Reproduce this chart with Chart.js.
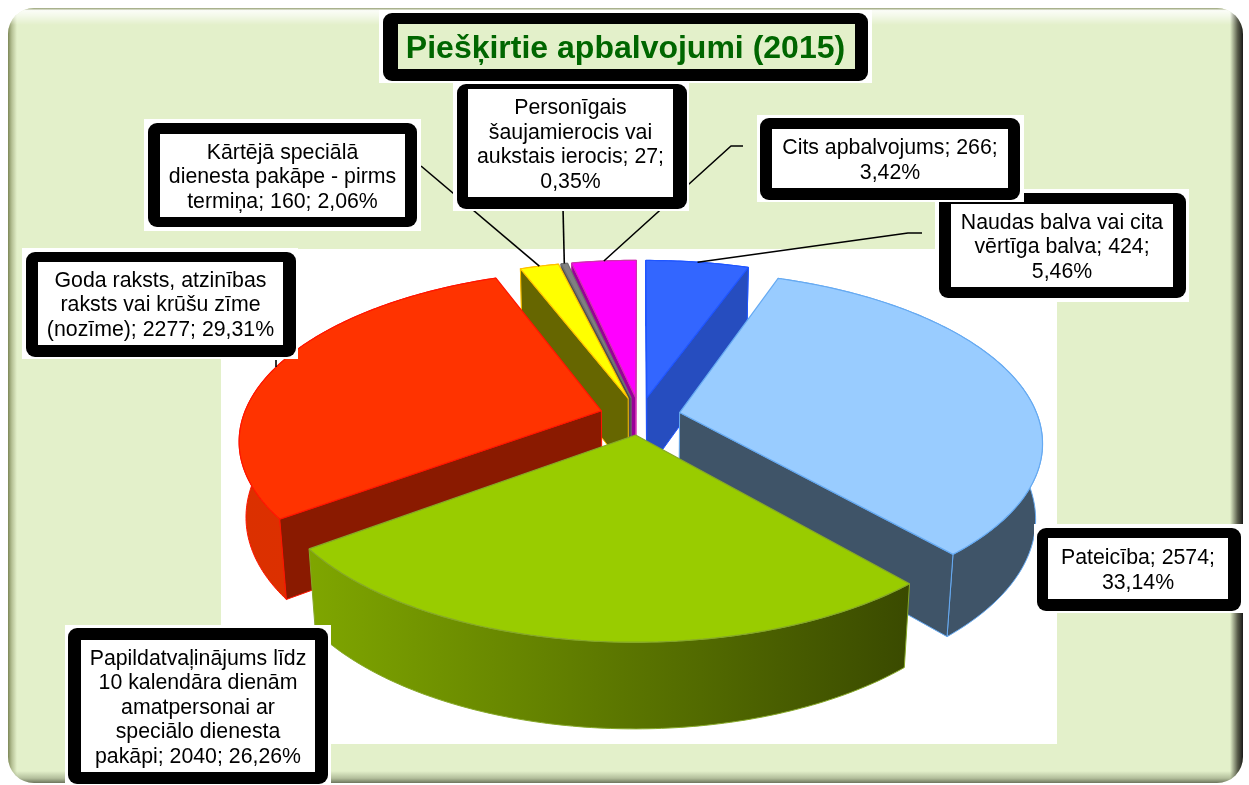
<!DOCTYPE html>
<html lang="lv">
<head>
<meta charset="utf-8">
<title>Piešķirtie apbalvojumi (2015)</title>
<script src="https://cdn.jsdelivr.net/npm/chart.js@4/dist/chart.umd.min.js"></script>
<style>
html,body{margin:0;padding:0;background:#fff;overflow:hidden}
#wrap{position:absolute;left:0;top:0;width:1249px;height:785px}
</style>
</head>
<body>
<div id="wrap"><canvas id="c" width="1249" height="785"></canvas></div>
<script>
/* ---------- data ---------- */
const chartTitle = 'Piešķirtie apbalvojumi (2015)';
const categories = [
  'Naudas balva vai cita vērtīga balva',
  'Pateicība',
  'Papildatvaļinājums līdz 10 kalendāra dienām amatpersonai ar speciālo dienesta pakāpi',
  'Goda raksts, atzinības raksts vai krūšu zīme (nozīme)',
  'Kārtējā speciālā dienesta pakāpe - pirms termiņa',
  'Personīgais šaujamierocis vai aukstais ierocis',
  'Cits apbalvojums'
];
const values = [424, 2574, 2040, 2277, 160, 27, 266];
const labelLines = [
  ['Naudas balva vai cita', 'vērtīga balva; 424;', '5,46%'],
  ['Pateicība; 2574;', '33,14%'],
  ['Papildatvaļinājums līdz', '10 kalendāra dienām', 'amatpersonai ar', 'speciālo dienesta', 'pakāpi; 2040; 26,26%'],
  ['Goda raksts, atzinības', 'raksts vai krūšu zīme', '(nozīme); 2277; 29,31%'],
  ['Kārtējā speciālā', 'dienesta pakāpe - pirms', 'termiņa; 160; 2,06%'],
  ['Personīgais', 'šaujamierocis vai', 'aukstais ierocis; 27;', '0,35%'],
  ['Cits apbalvojums; 266;', '3,42%']
];

/* ---------- styles ---------- */
const topColors    = ['#3366FF', '#99CCFF', '#99CC00', '#FF3300', '#FFFF00', '#808080', '#FF00FF'];
const borderColors = ['#1F55FF', '#66AAF2', '#86A828', '#FF1500', '#FFC000', '#6E6E6E', '#D030B0'];
const wallColors   = [['#264DBF', '#264DBF'], ['#3F5468', '#3F5468'], ['#7FA600', '#3A4A00'],
                      ['#DB3000', '#E03000'], ['#666600', '#666600'], ['#4D4D4D', '#4D4D4D'], ['#990099', '#990099']];
const cutColors    = ['#264DBF', '#3F5468', '#3A4A00', '#8A1A00', '#666600', '#4D4D4D', '#990099'];

/* ---------- camera (unit-radius world, screen pixels out) ---------- */
const cam = { cx: 640, cy: 416, sx: 358, sy: 165.8, persp: 0.166, depthPersp: 0.017, depth: 76, explode: 0.113 };

/* ---------- annotation layout ---------- */
const boxes = [
  { back: [935, 189, 1189, 302],  frame: [939, 193, 1186, 298], inner: [951, 204, 1173, 287], lead: [[922, 233], [908, 233]] },
  { back: [1034, 524, 1245, 613], frame: [1037, 528, 1241, 611], inner: [1048, 538, 1228, 599], lead: null },
  { back: [65, 625, 331, 785],    frame: [68, 628, 328, 784],   inner: [81, 640, 315, 772],   lead: null },
  { back: [22, 248, 298, 359],    frame: [26, 252, 296, 357],   inner: [38, 262, 283, 345],   lead: [[276, 360], [276, 367]], stub: true },
  { back: [144, 119, 421, 231],   frame: [148, 123, 417, 227],  inner: [160, 134, 405, 217],  lead: [[421, 166]] },
  { back: [453, 82, 689, 211],    frame: [457, 84, 687, 209],   inner: [468, 89, 673, 197],   lead: [[563, 208]] },
  { back: [757, 115, 1024, 202],  frame: [760, 118, 1020, 200], inner: [772, 129, 1008, 188], lead: [[743, 146], [731, 146]] }
];
const titleBox = { back: [379, 10, 872, 83], frame: [383, 13, 868, 81], inner: [398, 24, 855, 69] };
const FONT = '"Liberation Sans", Arial, sans-serif';

/* world point -> screen */
function project(X, Y, z) {
  const w = 1 + cam.persp * Y + cam.depthPersp * z;
  return [cam.cx + cam.sx * X / w, cam.cy + (-cam.sy * Y + cam.depth * z) / w];
}
function midOf(p) { return (p.startAngle + p.endAngle) / 2; }
function worldPoint(mid, angle, r) {
  return [r * Math.cos(angle) + cam.explode * Math.cos(mid), -r * Math.sin(angle) - cam.explode * Math.sin(mid)];
}
function onScreen(mid, angle, r, z) { const w = worldPoint(mid, angle, r); return project(w[0], w[1], z); }

/* hands ArcElement.draw a context whose paths go through the camera */
function projectingContext(ctx, arc) {
  const R = arc.outerRadius, mid = midOf(arc);
  let tx = 0, ty = 0; const stack = [];
  const map = (x, y) => {
    const ex = cam.explode * Math.cos(mid), ey = cam.explode * Math.sin(mid);
    return project((x + tx - arc.x) / R + ex, -((y + ty - arc.y) / R + ey), 0);
  };
  const own = {
    save() { stack.push([tx, ty]); ctx.save(); },
    restore() { [tx, ty] = stack.pop(); ctx.restore(); },
    translate(x, y) { tx += x; ty += y; },
    moveTo(x, y) { const p = map(x, y); ctx.moveTo(p[0], p[1]); },
    lineTo(x, y) { const p = map(x, y); ctx.lineTo(p[0], p[1]); },
    arc(x, y, r, a0, a1, ccw) {
      const n = Math.max(2, Math.ceil(Math.abs(a1 - a0) / 0.015));
      for (let i = 0; i <= n; i++) {
        const a = a0 + (a1 - a0) * i / n;
        const p = map(x + r * Math.cos(a), y + r * Math.sin(a));
        ctx.lineTo(p[0], p[1]);
      }
    }
  };
  return new Proxy(ctx, {
    get(t, k) { if (k in own) return own[k]; const v = t[k]; return typeof v === 'function' ? v.bind(t) : v; },
    set(t, k, v) { t[k] = v; return true; }
  });
}

function drawPanel(ctx) {
  ctx.fillStyle = '#fff'; ctx.fillRect(0, 0, 1249, 785);
  ctx.save();
  ctx.beginPath(); ctx.roundRect(8, 8, 1235, 775, 26); ctx.clip();
  ctx.fillStyle = '#E3F0CA'; ctx.fillRect(8, 8, 1235, 775);
  const strip = (x0, y0, x1, y1, stops) => {
    const g = ctx.createLinearGradient(x0, y0, x1, y1);
    stops.forEach(s => g.addColorStop(s[0], s[1]));
    ctx.fillStyle = g; ctx.fillRect(8, 8, 1235, 775);
  };
  strip(8, 0, 17, 0, [[0, 'rgba(105,115,65,.85)'], [.45, 'rgba(140,150,100,.5)'], [1, 'rgba(140,150,100,0)']]);
  strip(8, 8, 8, 25, [[0, 'rgba(130,140,95,.8)'], [.15, 'rgba(255,255,255,.85)'], [.45, 'rgba(255,255,255,.6)'], [1, 'rgba(255,255,255,0)']]);
  strip(1230, 0, 1243, 0, [[0, 'rgba(40,40,30,0)'], [.6, 'rgba(40,40,30,.75)'], [1, 'rgba(20,20,20,.98)']]);
  strip(8, 771, 8, 783, [[0, 'rgba(90,100,70,0)'], [.6, 'rgba(90,100,70,.35)'], [1, 'rgba(80,85,65,.8)']]);
  ctx.restore();
  ctx.fillStyle = '#fff'; ctx.fillRect(221, 249, 836, 495);
}

function wallFill(ctx, colors, x0, x1) {
  if (colors[0] === colors[1]) return colors[0];
  const g = ctx.createLinearGradient(x0, 0, x1, 0);
  g.addColorStop(0, colors[0]); g.addColorStop(1, colors[1]);
  return g;
}
function polygon(ctx, pts, fill, stroke) {
  ctx.beginPath();
  pts.forEach((p, i) => i ? ctx.lineTo(p[0], p[1]) : ctx.moveTo(p[0], p[1]));
  ctx.closePath();
  ctx.fillStyle = fill; ctx.fill();
  ctx.strokeStyle = stroke; ctx.lineWidth = 1; ctx.lineJoin = 'round'; ctx.stroke();
}
function cutWall(ctx, mid, angle, wantPositive, fill, stroke) {
  const a = onScreen(mid, angle, 0, 0), b = onScreen(mid, angle, 1, 0);
  const c = onScreen(mid, angle, 1, 1), d = onScreen(mid, angle, 0, 1);
  const cross = (b[0] - a[0]) * (c[1] - b[1]) - (b[1] - a[1]) * (c[0] - b[0]);
  if (wantPositive ? cross >= 0 : cross <= 0) polygon(ctx, [a, b, c, d], fill, stroke);
}
function drawSlice(ctx, arc, i) {
  const mid = midOf(arc), a0 = arc.startAngle, a1 = arc.endAngle;
  const n = Math.max(2, Math.ceil((a1 - a0) / 0.015));
  const top = [], bot = [];
  for (let k = 0; k <= n; k++) {
    const a = a0 + (a1 - a0) * k / n;
    top.push(onScreen(mid, a, 1, 0)); bot.push(onScreen(mid, a, 1, 1));
  }
  const xs = top.map(p => p[0]);
  polygon(ctx, top.concat(bot.reverse()), wallFill(ctx, wallColors[i], Math.min(...xs), Math.max(...xs)), borderColors[i]);
  cutWall(ctx, mid, a0, false, cutColors[i], borderColors[i]);
  cutWall(ctx, mid, a1, true, cutColors[i], borderColors[i]);
  arc.draw(projectingContext(ctx, arc));
}
function drawFrame(ctx, b, fill) {
  ctx.fillStyle = '#fff';
  ctx.fillRect(b.back[0], b.back[1], b.back[2] - b.back[0], b.back[3] - b.back[1]);
  ctx.fillStyle = '#000';
  ctx.beginPath();
  ctx.roundRect(b.frame[0], b.frame[1], b.frame[2] - b.frame[0], b.frame[3] - b.frame[1], 9);
  ctx.fill();
  ctx.fillStyle = fill;
  ctx.fillRect(b.inner[0], b.inner[1], b.inner[2] - b.inner[0], b.inner[3] - b.inner[1]);
}

const pie3d = {
  id: 'pie3d',
  beforeDraw(chart) { drawPanel(chart.ctx); },
  beforeDatasetsDraw(chart) {
    const arcs = chart.getDatasetMeta(0).data;
    arcs.map((a, i) => [a, i])
      .sort((p, q) => Math.sin(midOf(p[0])) - Math.sin(midOf(q[0])))
      .forEach(p => drawSlice(chart.ctx, p[0], p[1]));
    return false;
  },
  afterDraw(chart) {
    const ctx = chart.ctx, arcs = chart.getDatasetMeta(0).data;
    ctx.save();
    ctx.strokeStyle = '#000'; ctx.lineWidth = 1.6;
    boxes.forEach((b, i) => {
      if (!b.lead) return;
      ctx.beginPath();
      if (b.stub) {
        ctx.moveTo(b.lead[0][0], b.lead[0][1]); ctx.lineTo(b.lead[1][0], b.lead[1][1]);
      } else {
        b.lead.forEach((p, k) => k ? ctx.lineTo(p[0], p[1]) : ctx.moveTo(p[0], p[1]));
        const m = midOf(arcs[i]), end = onScreen(m, m, 1, 0);
        ctx.lineTo(end[0], end[1]);
      }
      ctx.stroke();
    });
    drawFrame(ctx, titleBox, '#E3F0CA');
    ctx.textAlign = 'center'; ctx.textBaseline = 'middle';
    ctx.fillStyle = '#006600'; ctx.font = 'bold 32px ' + FONT;
    ctx.fillText(chartTitle, (titleBox.inner[0] + titleBox.inner[2]) / 2 - 1, (titleBox.inner[1] + titleBox.inner[3]) / 2 + 3);
    boxes.forEach((b, i) => {
      drawFrame(ctx, b, '#fff');
      ctx.fillStyle = '#000'; ctx.font = '21.3px ' + FONT;
      const lines = labelLines[i], lh = 24.6;
      const cx = (b.inner[0] + b.inner[2]) / 2, cy = (b.inner[1] + b.inner[3]) / 2;
      lines.forEach((t, k) => ctx.fillText(t, cx, cy + (k - (lines.length - 1) / 2) * lh + 2));
    });
    ctx.restore();
  }
};

new Chart(document.getElementById('c').getContext('2d'), {
  type: 'pie',
  data: { labels: categories, datasets: [{ data: values, backgroundColor: topColors, borderColor: borderColors, borderWidth: 1.2 }] },
  options: {
    responsive: false, animation: false, events: [],
    plugins: { legend: { display: false }, tooltip: { enabled: false }, title: { display: false } }
  },
  plugins: [pie3d]
});
</script>
</body>
</html>
